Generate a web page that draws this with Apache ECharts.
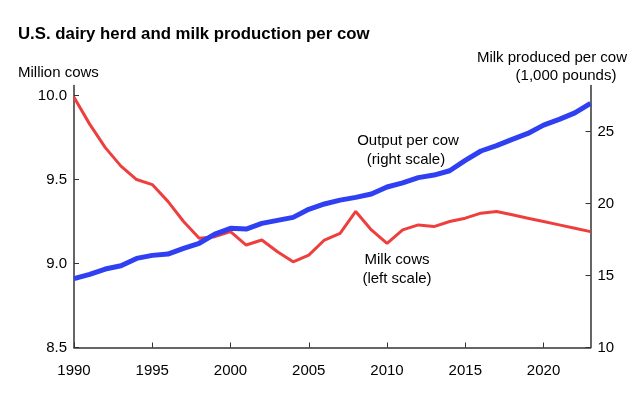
<!DOCTYPE html>
<html>
<head>
<meta charset="utf-8">
<script src="https://cdn.jsdelivr.net/npm/echarts@6/dist/echarts.min.js"></script>
<style>
    html, body { margin: 0; padding: 0; background: #fff; }
    #chart { width: 630px; height: 398px; }
</style>
</head>
<body>
<div id="chart"></div>
<script>
    // years 1990..2023
    var years = [1990, 1991, 1992, 1993, 1994, 1995, 1996, 1997, 1998, 1999,
        2000, 2001, 2002, 2003, 2004, 2005, 2006, 2007, 2008, 2009,
        2010, 2011, 2012, 2013, 2014, 2015, 2016, 2017, 2018, 2019,
        2020, 2021, 2022, 2023];

    // milk cows, million head (left scale)
    var milkCows = [9.99, 9.83, 9.69, 9.58, 9.50, 9.47, 9.37, 9.25, 9.15, 9.16,
        9.19, 9.11, 9.14, 9.07, 9.01, 9.05, 9.14, 9.18, 9.31, 9.20,
        9.12, 9.20, 9.23, 9.22, 9.25, 9.27, 9.30, 9.31, 9.29, 9.27,
        9.25, 9.23, 9.21, 9.19];

    // milk per cow, 1,000 pounds (right scale)
    var outputPerCow = [14.78, 15.08, 15.45, 15.68, 16.19, 16.40, 16.49, 16.89, 17.24, 17.88,
        18.28, 18.23, 18.62, 18.83, 19.04, 19.60, 19.97, 20.24, 20.43, 20.66,
        21.15, 21.44, 21.80, 21.98, 22.28, 23.00, 23.65, 24.02, 24.46, 24.87,
        25.45, 25.85, 26.30, 26.96];

    var xTicks = [1990, 1995, 2000, 2005, 2010, 2015, 2020];
    var leftTicks = [8.5, 9.0, 9.5, 10.0];
    var rightTicks = [10, 15, 20, 25];

    var font = 'Liberation Sans, Arial, sans-serif';
    var axisColor = '#333';

    function pairs(ys) {
        return years.map(function (y, i) { return [y, ys[i]]; });
    }

    var chart = echarts.init(document.getElementById('chart'));
    var option = {
        animation: false,
        grid: {
            left: 74,
            right: 39.5,
            top: 85.5,
            bottom: 50.5
        },
        graphic: [
            {
                type: 'text', left: 18, top: 26,
                style: { text: 'U.S. dairy herd and milk production per cow', font: 'bold 16.8px ' + font, fill: '#000' }
            },
            {
                type: 'text', left: 18, top: 65,
                style: { text: 'Million cows', font: '15px ' + font, fill: '#000' }
            },
            {
                type: 'text', right: 3, top: 50,
                style: { text: 'Milk produced per cow', font: '15px ' + font, fill: '#000' }
            },
            {
                type: 'text', x: 566, y: 68,
                style: { text: '(1,000 pounds)', font: '15px ' + font, fill: '#000', align: 'center' }
            },
            {
                type: 'text', x: 408, y: 133,
                style: { text: 'Output per cow', font: '15px ' + font, fill: '#000', align: 'center' }
            },
            {
                type: 'text', x: 406, y: 152,
                style: { text: '(right scale)', font: '15px ' + font, fill: '#000', align: 'center' }
            },
            {
                type: 'text', x: 397, y: 252,
                style: { text: 'Milk cows', font: '15px ' + font, fill: '#000', align: 'center' }
            },
            {
                type: 'text', x: 397, y: 271,
                style: { text: '(left scale)', font: '15px ' + font, fill: '#000', align: 'center' }
            }
        ],
        xAxis: {
            type: 'value',
            min: 1990,
            max: 2023,
            interval: 5,
            splitLine: { show: false },
            axisLine: { lineStyle: { color: axisColor, width: 1.5 } },
            axisTick: { inside: true, length: 5, customValues: xTicks, lineStyle: { color: axisColor } },
            axisLabel: {
                customValues: xTicks,
                margin: 16,
                color: '#000',
                fontSize: 15,
                fontFamily: font,
                formatter: function (v) { return String(v); }
            }
        },
        yAxis: [
            {
                type: 'value',
                position: 'left',
                min: 8.5,
                max: 10.06,
                splitLine: { show: false },
                axisLine: { show: true, lineStyle: { color: axisColor, width: 1.5 } },
                axisTick: { show: true, inside: true, length: 5, customValues: leftTicks, lineStyle: { color: axisColor } },
                axisLabel: {
                    customValues: leftTicks,
                    margin: 7,
                    color: '#000',
                    fontSize: 15,
                    fontFamily: font,
                    formatter: function (v) { return v.toFixed(1); }
                }
            },
            {
                type: 'value',
                position: 'right',
                min: 10,
                max: 28.2,
                alignTicks: false,
                splitLine: { show: false },
                axisLine: { show: true, lineStyle: { color: axisColor, width: 1.5 } },
                axisTick: { show: true, inside: true, length: 5, customValues: rightTicks, lineStyle: { color: axisColor } },
                axisLabel: {
                    customValues: rightTicks,
                    margin: 7,
                    color: '#000',
                    fontSize: 15,
                    fontFamily: font
                }
            }
        ],
        series: [
            {
                name: 'Milk cows',
                type: 'line',
                yAxisIndex: 0,
                showSymbol: false,
                data: pairs(milkCows),
                lineStyle: { color: '#ee3e3e', width: 3 },
                z: 2
            },
            {
                name: 'Output per cow',
                type: 'line',
                yAxisIndex: 1,
                showSymbol: false,
                data: pairs(outputPerCow),
                lineStyle: { color: '#2f3ff2', width: 5 },
                z: 3
            }
        ]
    };
    chart.setOption(option);
</script>
</body>
</html>
